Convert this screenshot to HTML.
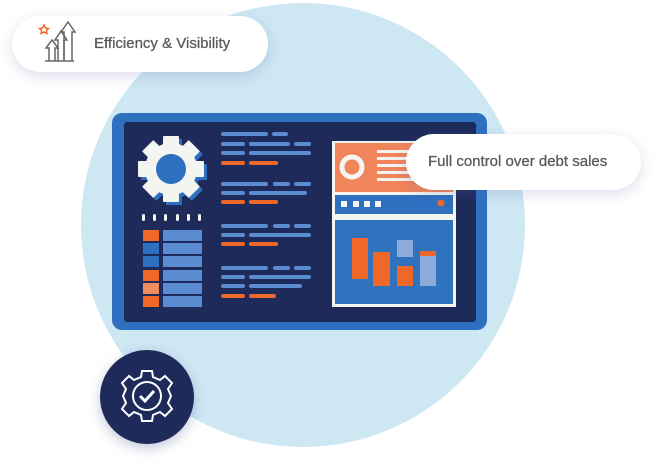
<!DOCTYPE html>
<html><head><style>
body{margin:0;width:663px;height:463px;background:#fff;overflow:hidden;position:relative;font-family:"Liberation Sans",sans-serif}
.pill{position:absolute;background:#fff;border-radius:30px;box-shadow:0 4px 14px rgba(90,100,170,.22);color:#5a5a5a;font-size:15px;-webkit-text-stroke:0.3px #5a5a5a}
</style></head><body>
<svg width="663" height="463" style="position:absolute;left:0;top:0">
<circle cx="303" cy="225" r="222" fill="#cde7f3"/>
<rect x="112" y="113" width="375" height="217" rx="10" fill="#2f6fc0"/>
<rect x="124" y="122" width="352" height="200" rx="3" fill="#1e2a5a"/>
<g transform="translate(171,169)">
<g fill="#2f6fc0" transform="translate(3,3)">
<circle r="26"/>
<g id="t"><rect x="-8" y="-33" width="16" height="12" rx="1"/></g>
<use href="#t" transform="rotate(45)"/><use href="#t" transform="rotate(90)"/><use href="#t" transform="rotate(135)"/><use href="#t" transform="rotate(180)"/><use href="#t" transform="rotate(225)"/><use href="#t" transform="rotate(270)"/><use href="#t" transform="rotate(315)"/>
</g>
<g fill="#f4f4f0">
<circle r="26"/>
<g id="t2"><rect x="-8" y="-33" width="16" height="12" rx="1"/></g>
<use href="#t2" transform="rotate(45)"/><use href="#t2" transform="rotate(90)"/><use href="#t2" transform="rotate(135)"/><use href="#t2" transform="rotate(180)"/><use href="#t2" transform="rotate(225)"/><use href="#t2" transform="rotate(270)"/><use href="#t2" transform="rotate(315)"/>
</g>
<circle r="15" fill="#2f6fc0"/>
</g>
<g fill="#f4f4f0">
<rect x="142" y="214" width="3" height="7" rx="1.5"/><rect x="153" y="214" width="3" height="7" rx="1.5"/><rect x="164" y="214" width="3" height="7" rx="1.5"/><rect x="176" y="214" width="3" height="7" rx="1.5"/><rect x="187" y="214" width="3" height="7" rx="1.5"/><rect x="198" y="214" width="3" height="7" rx="1.5"/>
</g>
<g>
<rect x="143" y="230" width="16" height="11" fill="#f0672a"/>
<rect x="143" y="243" width="16" height="11" fill="#2f6fc0"/>
<rect x="143" y="256" width="16" height="11" fill="#2f6fc0"/>
<rect x="143" y="270" width="16" height="11" fill="#f0672a"/>
<rect x="143" y="283" width="16" height="11" fill="#f08d60"/>
<rect x="143" y="296" width="16" height="11" fill="#f0672a"/>
</g>
<g fill="#5b8bd0">
<rect x="163" y="230" width="39" height="11"/><rect x="163" y="243" width="39" height="11"/><rect x="163" y="256" width="39" height="11"/><rect x="163" y="270" width="39" height="11"/><rect x="163" y="283" width="39" height="11"/><rect x="163" y="296" width="39" height="11"/>
</g>
<g fill="#5b8bd0">
<rect x="221" y="132" width="47" height="4" rx="2"/><rect x="272" y="132" width="16" height="4" rx="2"/>
<rect x="221" y="142" width="24" height="4" rx="2"/><rect x="249" y="142" width="41" height="4" rx="2"/><rect x="294" y="142" width="17" height="4" rx="2"/>
<rect x="221" y="151" width="24" height="4" rx="2"/><rect x="249" y="151" width="62" height="4" rx="2"/>
<rect x="221" y="182" width="47" height="4" rx="2"/><rect x="273" y="182" width="17" height="4" rx="2"/><rect x="294" y="182" width="17" height="4" rx="2"/>
<rect x="221" y="191" width="24" height="4" rx="2"/><rect x="249" y="191" width="58" height="4" rx="2"/>
<rect x="221" y="224" width="47" height="4" rx="2"/><rect x="273" y="224" width="17" height="4" rx="2"/><rect x="294" y="224" width="17" height="4" rx="2"/>
<rect x="221" y="233" width="24" height="4" rx="2"/><rect x="249" y="233" width="62" height="4" rx="2"/>
<rect x="221" y="266" width="47" height="4" rx="2"/><rect x="273" y="266" width="17" height="4" rx="2"/><rect x="294" y="266" width="17" height="4" rx="2"/>
<rect x="221" y="275" width="24" height="4" rx="2"/><rect x="249" y="275" width="62" height="4" rx="2"/>
<rect x="221" y="284" width="24" height="4" rx="2"/><rect x="249" y="284" width="53" height="4" rx="2"/>
</g>
<g fill="#f0672a">
<rect x="221" y="161" width="24" height="4" rx="2"/><rect x="249" y="161" width="29" height="4" rx="2"/>
<rect x="221" y="200" width="24" height="4" rx="2"/><rect x="249" y="200" width="29" height="4" rx="2"/>
<rect x="221" y="242" width="24" height="4" rx="2"/><rect x="249" y="242" width="29" height="4" rx="2"/>
<rect x="221" y="294" width="24" height="4" rx="2"/><rect x="249" y="294" width="27" height="4" rx="2"/>
</g>
<rect x="332" y="141" width="124" height="166" fill="#f4f4f0"/>
<rect x="335" y="143" width="118" height="49" fill="#f0845a"/>
<circle cx="352" cy="167" r="10" fill="none" stroke="#f4f4f0" stroke-width="5"/>
<g fill="#f4f4f0"><rect x="377" y="150" width="45" height="3"/><rect x="377" y="157" width="45" height="3"/><rect x="377" y="164" width="45" height="3"/><rect x="377" y="171" width="45" height="3"/><rect x="377" y="178" width="45" height="3"/></g>
<rect x="335" y="195" width="118" height="19" fill="#2f6fc0"/>
<g fill="#f4f4f0"><rect x="341" y="201" width="6" height="6"/><rect x="353" y="201" width="6" height="6"/><rect x="364" y="201" width="6" height="6"/><rect x="375" y="201" width="6" height="6"/></g>
<circle cx="441" cy="203" r="3.5" fill="#f0672a"/>
<rect x="335" y="220" width="118" height="84" fill="#2f73be"/>
<rect x="352" y="238" width="16" height="41" fill="#f0672a"/>
<rect x="373" y="252" width="17" height="34" fill="#f0672a"/>
<rect x="397" y="240" width="16" height="17" fill="#8eaad8"/>
<rect x="397" y="266" width="16" height="20" fill="#f0672a"/>
<rect x="420" y="251" width="16" height="35" fill="#8eaad8"/>
<rect x="420" y="251" width="16" height="5" fill="#f0672a"/>
<circle cx="147" cy="397" r="47" fill="#1e2a5a" style="filter:drop-shadow(0 4px 6px rgba(60,70,140,.3))"/>
<g fill="none" stroke="#fff" stroke-width="2" transform="translate(147,396)">
<path d="M-5,-25 L5,-25 L6,-19 L13,-16 L18,-20 L25,-13 L21,-7 L24,0 L21,7 L25,13 L18,20 L13,16 L6,19 L5,25 L-5,25 L-6,19 L-13,16 L-18,20 L-25,13 L-21,7 L-24,0 L-21,-7 L-25,-13 L-18,-20 L-13,-16 L-6,-19Z"/>
<circle r="14"/>
<path d="M-7,0 L-2,5 L7,-5" stroke-width="3"/>
</g>
</svg>
<div class="pill" style="left:12px;top:16px;width:256px;height:56px;"><span style="position:absolute;left:82px;top:19px">Efficiency &amp; Visibility</span></div>
<div class="pill" style="left:406px;top:134px;width:235px;height:56px;"><span style="position:absolute;left:22px;top:19px">Full control over debt sales</span></div>
<svg width="100" height="80" style="position:absolute;left:0;top:0">
<g fill="none" stroke="#666" stroke-width="1.5">
<path d="M49,61 V48 L46,48 L52,40 L58,48 L55,48 V61"/>
<path d="M58,61 V40 L55,40 L61,31 L67,40 L64,40 V61"/>
<path d="M64,61 V32 L61,32 L68,22 L75,32 L72,32 V61"/>
<path d="M45,61 H74"/>
</g>
<path d="M44,25 l1.5,3 3,.5 -2.2,2 .6,3 -2.9,-1.5 -2.9,1.5 .6,-3 -2.2,-2 3,-.5z" fill="none" stroke="#f0672a" stroke-width="1.5"/>
</svg>
</body></html>
